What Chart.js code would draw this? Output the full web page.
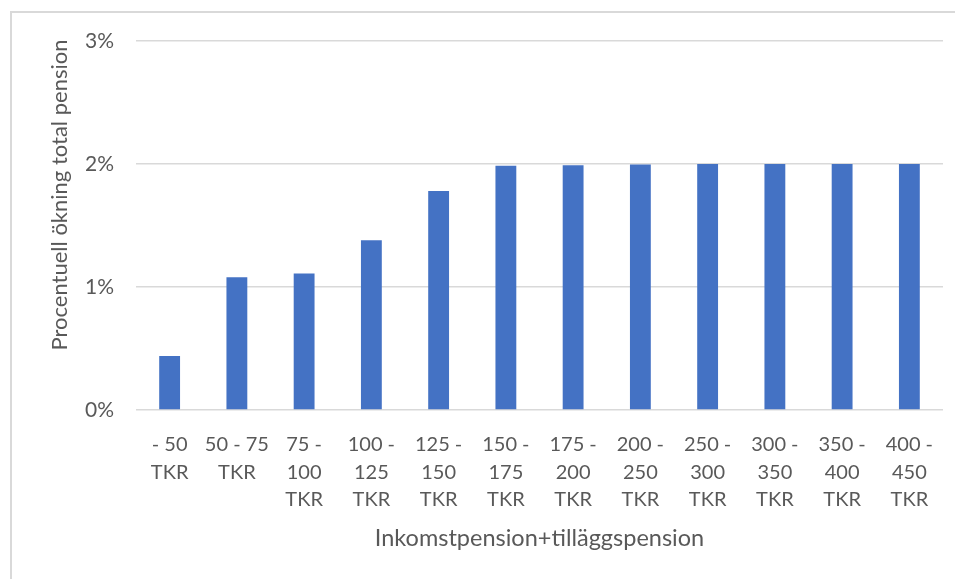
<!DOCTYPE html>
<html>
<head>
<meta charset="utf-8">
<script src="https://cdn.jsdelivr.net/npm/chart.js@4/dist/chart.umd.min.js"></script>
<style>
    body { margin: 0; background: #fff; }
    #wrap { position: relative; width: 955px; height: 579px; overflow: hidden; }
    #frame { position: absolute; left: 10px; top: 11px; width: 1000px; height: 700px;
             border-left: 2px solid #d9d9d9; border-top: 2px solid #d9d9d9; }
    #chart_canvas { position: absolute; left: 0; top: 0; }
</style>
</head>
<body>
<div id="wrap">
    <div id="frame"></div>
    <canvas id="chart_canvas" width="955" height="579"></canvas>
</div>
<script>
// inkomstintervall, uppdelade i rader som under axeln
var categories = [
    ['- 50', 'TKR'], ['50 - 75', 'TKR'], ['75 -', '100', 'TKR'], ['100 -', '125', 'TKR'],
    ['125 -', '150', 'TKR'], ['150 -', '175', 'TKR'], ['175 -', '200', 'TKR'], ['200 -', '250', 'TKR'],
    ['250 -', '300', 'TKR'], ['300 -', '350', 'TKR'], ['350 -', '400', 'TKR'], ['400 -', '450', 'TKR']
];
// procentuell ökning (%)
var okning = [0.44, 1.08, 1.11, 1.38, 1.78, 1.985, 1.99, 1.995, 2.0, 2.0, 2.0, 2.0];
var yTickLabels = ['0%', '1%', '2%', '3%'];
var yTitle = 'Procentuell ökning total pension';

var textColor = '#595959';
var fontFamily = 'Lato, "Open Sans", sans-serif';

Chart.defaults.font.family = fontFamily;
Chart.defaults.color = textColor;

// y-axelns rubrik ritas för hand, lite ovanför mitten som i Excel
var yTitlePlugin = {
    id: 'yTitle',
    afterDraw: function (chart) {
        var c = chart.ctx;
        c.save();
        c.translate(60, 195);
        c.rotate(-Math.PI / 2);
        c.font = '22px ' + fontFamily;
        c.fillStyle = textColor;
        c.textAlign = 'center';
        c.textBaseline = 'middle';
        c.fillText(yTitle, 0, 0);
        c.restore();
    }
};

var ctx = document.getElementById("chart_canvas").getContext('2d');

var chart = new Chart(ctx, {
    type: 'bar',
    data: {
        labels: categories,
        datasets: [
            {
                data: okning,
                backgroundColor: '#4472C4',
                barPercentage: 0.31,
                categoryPercentage: 1
            }
        ]
    },
    options: {
        responsive: false,
        animation: false,
        layout: {
            padding: { left: 0, top: 41, right: 12, bottom: 0 }
        },
        plugins: {
            legend: { display: false },
            tooltip: { enabled: false }
        },
        scales: {
            x: {
                grid: { display: false },
                border: { display: false },
                ticks: {
                    maxRotation: 0,
                    autoSkip: false,
                    padding: 13,
                    font: { size: 20, lineHeight: 1.375 }
                },
                title: {
                    display: true,
                    text: 'Inkomstpension+tilläggspension',
                    font: { size: 23.5 },
                    padding: { top: 0, bottom: 26 }
                },
                afterFit: function (scale) {
                    scale.height = 579 - 410;
                }
            },
            y: {
                min: 0,
                max: 3,
                grid: { color: '#d9d9d9', lineWidth: 1.5, drawTicks: false },
                border: { display: false },
                ticks: {
                    stepSize: 1,
                    padding: 22,
                    font: { size: 21 },
                    callback: function (value, index) {
                        return yTickLabels[index];
                    }
                },
                afterFit: function (scale) {
                    scale.width = 136;
                }
            }
        }
    },
    plugins: [yTitlePlugin]
});
</script>
</body>
</html>
